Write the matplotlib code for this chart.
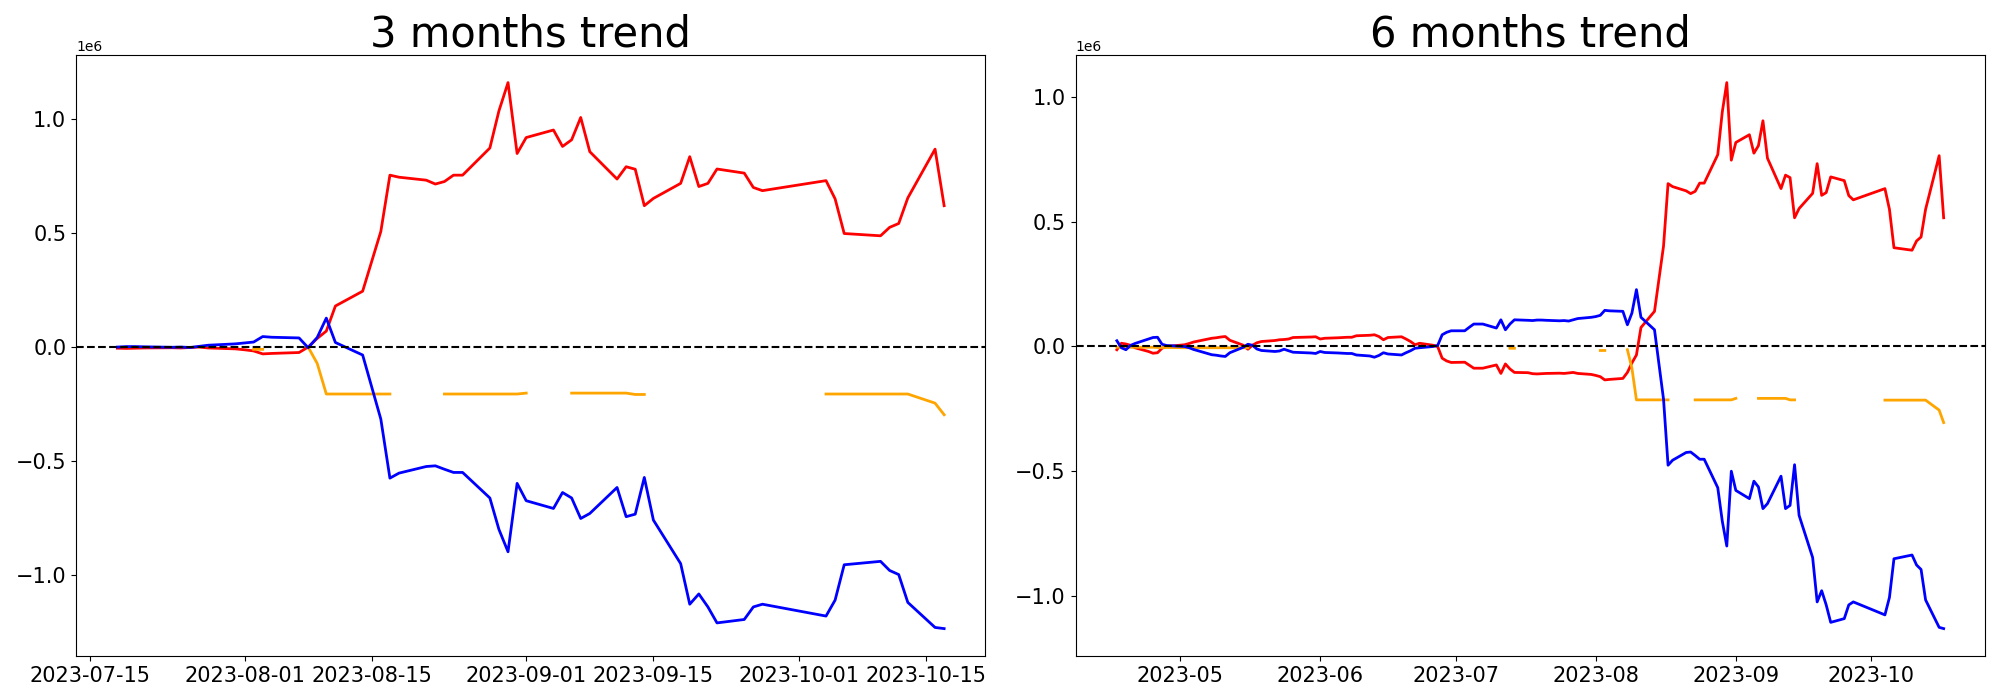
import numpy as np
import pandas as pd
import matplotlib
matplotlib.use("Agg")
import matplotlib.pyplot as plt

# values are in millions (the axis shows the 1e6 offset)

# ---- 3 months window ----
days_3m = ["07-18", "07-19", "07-20", "07-21", "07-24", "07-25", "07-26", "07-27", "07-28", "07-31",
           "08-01", "08-02", "08-03", "08-04", "08-07", "08-08", "08-09", "08-10", "08-11", "08-14",
           "08-16", "08-17", "08-18", "08-21", "08-22", "08-23", "08-24", "08-25", "08-28", "08-29",
           "08-30", "08-31", "09-01", "09-04", "09-05", "09-06", "09-07", "09-08", "09-11", "09-12",
           "09-13", "09-14", "09-15", "09-18", "09-19", "09-20", "09-21", "09-22", "09-25", "09-26",
           "09-27", "10-04", "10-05", "10-06", "10-10", "10-11", "10-12", "10-13", "10-16", "10-17"]
red_3m = [-0.005, -0.006, -0.005, -0.004, -0.003, -0.004, -0.002, 0.000, -0.004, -0.008,
          -0.012, -0.017, -0.030, -0.028, -0.024, 0.000, 0.038, 0.070, 0.180, 0.245,
          0.507, 0.754, 0.745, 0.732, 0.715, 0.726, 0.754, 0.754, 0.873, 1.036,
          1.160, 0.849, 0.919, 0.952, 0.880, 0.909, 1.007, 0.857, 0.737, 0.791,
          0.780, 0.620, 0.652, 0.718, 0.835, 0.704, 0.718, 0.781, 0.763, 0.700,
          0.686, 0.730, 0.650, 0.498, 0.488, 0.525, 0.542, 0.654, 0.868, 0.620]
blue_3m = [0.000, 0.002, 0.002, 0.001, -0.001, 0.000, -0.002, 0.003, 0.008, 0.014,
           0.018, 0.022, 0.046, 0.043, 0.040, -0.003, 0.042, 0.127, 0.020, -0.035,
           -0.316, -0.575, -0.553, -0.524, -0.521, -0.536, -0.550, -0.550, -0.662, -0.800,
           -0.898, -0.598, -0.674, -0.708, -0.638, -0.662, -0.752, -0.730, -0.616, -0.744,
           -0.733, -0.572, -0.759, -0.950, -1.128, -1.083, -1.140, -1.210, -1.195, -1.140,
           -1.128, -1.180, -1.110, -0.955, -0.940, -0.980, -0.998, -1.120, -1.230, -1.235]
orange_3m = [None, None, None, None, None, None, None, None, None, None,
             None, -0.010, -0.010, None, None, 0.000, -0.072, -0.206, -0.206, -0.206,
             -0.206, -0.206, None, None, None, -0.206, -0.206, -0.206, -0.206, -0.206,
             -0.206, -0.206, -0.202, None, None, -0.202, -0.202, -0.202, -0.202, -0.202,
             -0.208, -0.208, None, None, None, None, None, None, None, None,
             None, -0.206, -0.206, -0.206, -0.206, -0.206, -0.206, -0.206, -0.246, -0.297]

# ---- 6 months window ----
days_6m = ["04-17", "04-18", "04-19", "04-20", "04-21", "04-24", "04-25", "04-26", "04-27", "04-28",
           "05-02", "05-03", "05-04", "05-08", "05-09", "05-10", "05-11", "05-12", "05-15", "05-16",
           "05-17", "05-18", "05-19", "05-22", "05-23", "05-24", "05-25", "05-26", "05-30", "05-31",
           "06-01", "06-02", "06-05", "06-07", "06-08", "06-09", "06-12", "06-13", "06-14", "06-15",
           "06-16", "06-19", "06-20", "06-21", "06-22", "06-23", "06-26", "06-27", "06-28", "06-29",
           "06-30", "07-03", "07-04", "07-05", "07-06", "07-07", "07-10", "07-11", "07-12", "07-13",
           "07-14", "07-17"] + days_3m
red_6m = [-0.013, 0.013, 0.010, 0.005, -0.005, -0.020, -0.027, -0.025, -0.007, 0.000,
          0.007, 0.012, 0.018, 0.033, 0.035, 0.038, 0.040, 0.025, 0.005, -0.011,
          0.005, 0.015, 0.020, 0.024, 0.027, 0.028, 0.030, 0.036, 0.038, 0.039,
          0.030, 0.033, 0.035, 0.037, 0.037, 0.043, 0.045, 0.047, 0.040, 0.027,
          0.036, 0.039, 0.030, 0.020, 0.007, 0.013, 0.005, 0.000, -0.047, -0.058,
          -0.064, -0.063, -0.075, -0.087, -0.087, -0.087, -0.074, -0.108, -0.070, -0.090,
          -0.104, -0.105,
          -0.109, -0.110, -0.109, -0.108, -0.107, -0.108, -0.106, -0.104, -0.108, -0.112,
          -0.116, -0.121, -0.134, -0.132, -0.128, -0.104, -0.066, -0.034, 0.076, 0.141,
          0.403, 0.653, 0.641, 0.624, 0.613, 0.622, 0.655, 0.655, 0.769, 0.940,
          1.058, 0.747, 0.818, 0.849, 0.775, 0.805, 0.905, 0.755, 0.633, 0.687,
          0.677, 0.516, 0.553, 0.614, 0.733, 0.606, 0.617, 0.680, 0.665, 0.605,
          0.588, 0.633, 0.550, 0.396, 0.386, 0.423, 0.439, 0.550, 0.765, 0.516]
blue_6m = [0.023, -0.005, -0.013, 0.004, 0.012, 0.030, 0.036, 0.037, 0.009, 0.004,
           0.000, -0.005, -0.012, -0.033, -0.035, -0.038, -0.040, -0.025, -0.003, 0.009,
           0.005, -0.010, -0.016, -0.020, -0.018, -0.011, -0.017, -0.023, -0.026, -0.028,
           -0.020, -0.024, -0.026, -0.028, -0.028, -0.034, -0.038, -0.043, -0.036, -0.025,
           -0.030, -0.034, -0.025, -0.017, -0.007, -0.005, 0.000, 0.004, 0.047, 0.057,
           0.063, 0.063, 0.077, 0.090, 0.090, 0.090, 0.074, 0.107, 0.067, 0.090,
           0.107, 0.105,
           0.104, 0.106, 0.106, 0.105, 0.103, 0.104, 0.102, 0.107, 0.112, 0.117,
           0.120, 0.125, 0.145, 0.143, 0.141, 0.087, 0.134, 0.228, 0.117, 0.067,
           -0.212, -0.476, -0.456, -0.425, -0.423, -0.437, -0.452, -0.452, -0.566, -0.700,
           -0.800, -0.500, -0.577, -0.610, -0.540, -0.563, -0.650, -0.630, -0.520, -0.650,
           -0.637, -0.474, -0.677, -0.846, -1.024, -0.979, -1.036, -1.106, -1.091, -1.036,
           -1.024, -1.076, -1.006, -0.851, -0.836, -0.876, -0.894, -1.016, -1.126, -1.131]
orange_6m = [-0.003, -0.003, -0.003, -0.003, -0.003, -0.003, -0.003, -0.004, -0.004, -0.004,
             -0.005, -0.005, -0.005, -0.005, -0.005, -0.005, -0.005, -0.005, -0.005, -0.005,
             None, None, None, None, None, None, None, None, None, None,
             None, None, None, None, None, None, None, None, None, None,
             None, None, None, None, None, None, None, None, None, None,
             None, None, None, None, None, None, None, None, None, -0.007,
             -0.007, None,
             None, None, None, None, None, None, None, None, None, None,
             None, -0.016, -0.016, None, None, -0.013, -0.087, -0.214, -0.214, -0.214,
             -0.214, -0.214, None, None, None, -0.214, -0.214, -0.214, -0.214, -0.214,
             -0.214, -0.214, -0.208, None, None, -0.208, -0.208, -0.208, -0.208, -0.208,
             -0.214, -0.214, None, None, None, None, None, None, None, None,
             None, -0.215, -0.215, -0.215, -0.215, -0.215, -0.215, -0.215, -0.255, -0.305]


def to_series(days, values):
    idx = pd.to_datetime(["2023-" + d for d in days])
    vals = np.array([np.nan if v is None else v for v in values], dtype=float) * 1e6
    return pd.Series(vals, index=idx)


def plot_trend(ax, days, red, blue, orange, title):
    ax.plot(to_series(days, red), color='red', linewidth=2)
    ax.plot(to_series(days, orange), color='orange', linewidth=2)
    ax.plot(to_series(days, blue), color='blue', linewidth=2)
    ax.axhline(0, color='black', linestyle='--', linewidth=1.5)
    ax.set_title(title, fontsize=30)
    ax.tick_params(axis='both', labelsize=15)


def main():
    fig, axes = plt.subplots(1, 2, figsize=(20, 7), dpi=100)
    plot_trend(axes[0], days_3m, red_3m, blue_3m, orange_3m, '3 months trend')
    plot_trend(axes[1], days_6m, red_6m, blue_6m, orange_6m, '6 months trend')
    fig.subplots_adjust(left=0.038, right=0.9925, bottom=0.063, top=0.921, wspace=0.099)
    fig.savefig('out.png')


if __name__ == "__main__":
    main()
